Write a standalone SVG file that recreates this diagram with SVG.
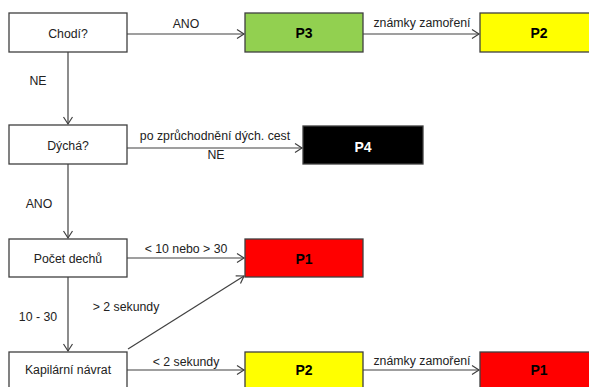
<svg xmlns="http://www.w3.org/2000/svg" width="589" height="387" viewBox="0 0 589 387">
<style>
.box{stroke:#3f3f3f;stroke-width:1.3}
.t{font-family:"Liberation Sans",Arial,sans-serif;font-size:12.3px;fill:#222;text-anchor:middle}
.p{font-family:"Liberation Sans",Arial,sans-serif;font-size:14px;font-weight:bold;fill:#000;text-anchor:middle}
.c{stroke:#404040;stroke-width:1.2;fill:none;marker-end:url(#ah)}
</style>
<defs>
<marker id="ah" markerUnits="userSpaceOnUse" markerWidth="12" markerHeight="12" refX="8" refY="5" orient="auto">
<path d="M1,0.5 L8,5 L1,9.5" fill="none" stroke="#404040" stroke-width="1.2"/>
</marker>
</defs>
<rect width="589" height="387" fill="#fff"/>
<g id="connectors">
<line class="c" x1="127" y1="34" x2="244" y2="34"/>
<line class="c" x1="363" y1="34" x2="479" y2="34"/>
<line class="c" x1="68" y1="52" x2="68" y2="124"/>
<line class="c" x1="127" y1="148" x2="302" y2="148"/>
<line class="c" x1="68" y1="164" x2="68" y2="238"/>
<line class="c" x1="127" y1="258" x2="244" y2="258"/>
<line class="c" x1="68" y1="277" x2="68" y2="351"/>
<line class="c" x1="128" y1="349" x2="244" y2="276"/>
<line class="c" x1="127" y1="370" x2="244" y2="370"/>
<line class="c" x1="363" y1="370" x2="479" y2="370"/>
<text class="t" x="186" y="28">ANO</text>
<text class="t" x="422" y="27">známky zamoření</text>
<text class="t" x="38" y="85">NE</text>
<text class="t" x="215" y="140">po zprůchodnění dých. cest</text>
<text class="t" x="216" y="159">NE</text>
<text class="t" x="39" y="208">ANO</text>
<text class="t" x="186" y="253">&lt; 10 nebo &gt; 30</text>
<text class="t" x="126" y="311">&gt; 2 sekundy</text>
<text class="t" x="38" y="321">10 - 30</text>
<text class="t" x="186" y="366">&lt; 2 sekundy</text>
<text class="t" x="422" y="365">známky zamoření</text>
</g>
<g id="chodi"><rect class="box" x="9" y="13" width="118" height="39" fill="#fff"/><text class="t" x="68" y="38">Chodí?</text></g>
<g id="p3"><rect class="box" x="245" y="13" width="118" height="39" fill="#92D050"/><text class="p" x="304" y="38">P3</text></g>
<g id="p2a"><rect class="box" x="480" y="13" width="118" height="39" fill="#FFFF00"/><text class="p" x="539" y="38">P2</text></g>
<g id="dycha"><rect class="box" x="9" y="125" width="118" height="39" fill="#fff"/><text class="t" x="68" y="150">Dýchá?</text></g>
<g id="p4"><rect class="box" x="303" y="126" width="120" height="38" fill="#000"/><text class="p" x="363" y="152" style="fill:#fff">P4</text></g>
<g id="pocet"><rect class="box" x="9" y="239" width="118" height="38" fill="#fff"/><text class="t" x="68" y="263">Počet dechů</text></g>
<g id="p1a"><rect class="box" x="245" y="239" width="118" height="38" fill="#FF0000"/><text class="p" x="304" y="264">P1</text></g>
<g id="kapilarni"><rect class="box" x="9" y="352" width="118" height="39" fill="#fff"/><text class="t" x="68" y="374">Kapilární návrat</text></g>
<g id="p2b"><rect class="box" x="245" y="352" width="118" height="39" fill="#FFFF00"/><text class="p" x="304" y="375">P2</text></g>
<g id="p1b"><rect class="box" x="480" y="352" width="118" height="39" fill="#FF0000"/><text class="p" x="539" y="375">P1</text></g>
</svg>
